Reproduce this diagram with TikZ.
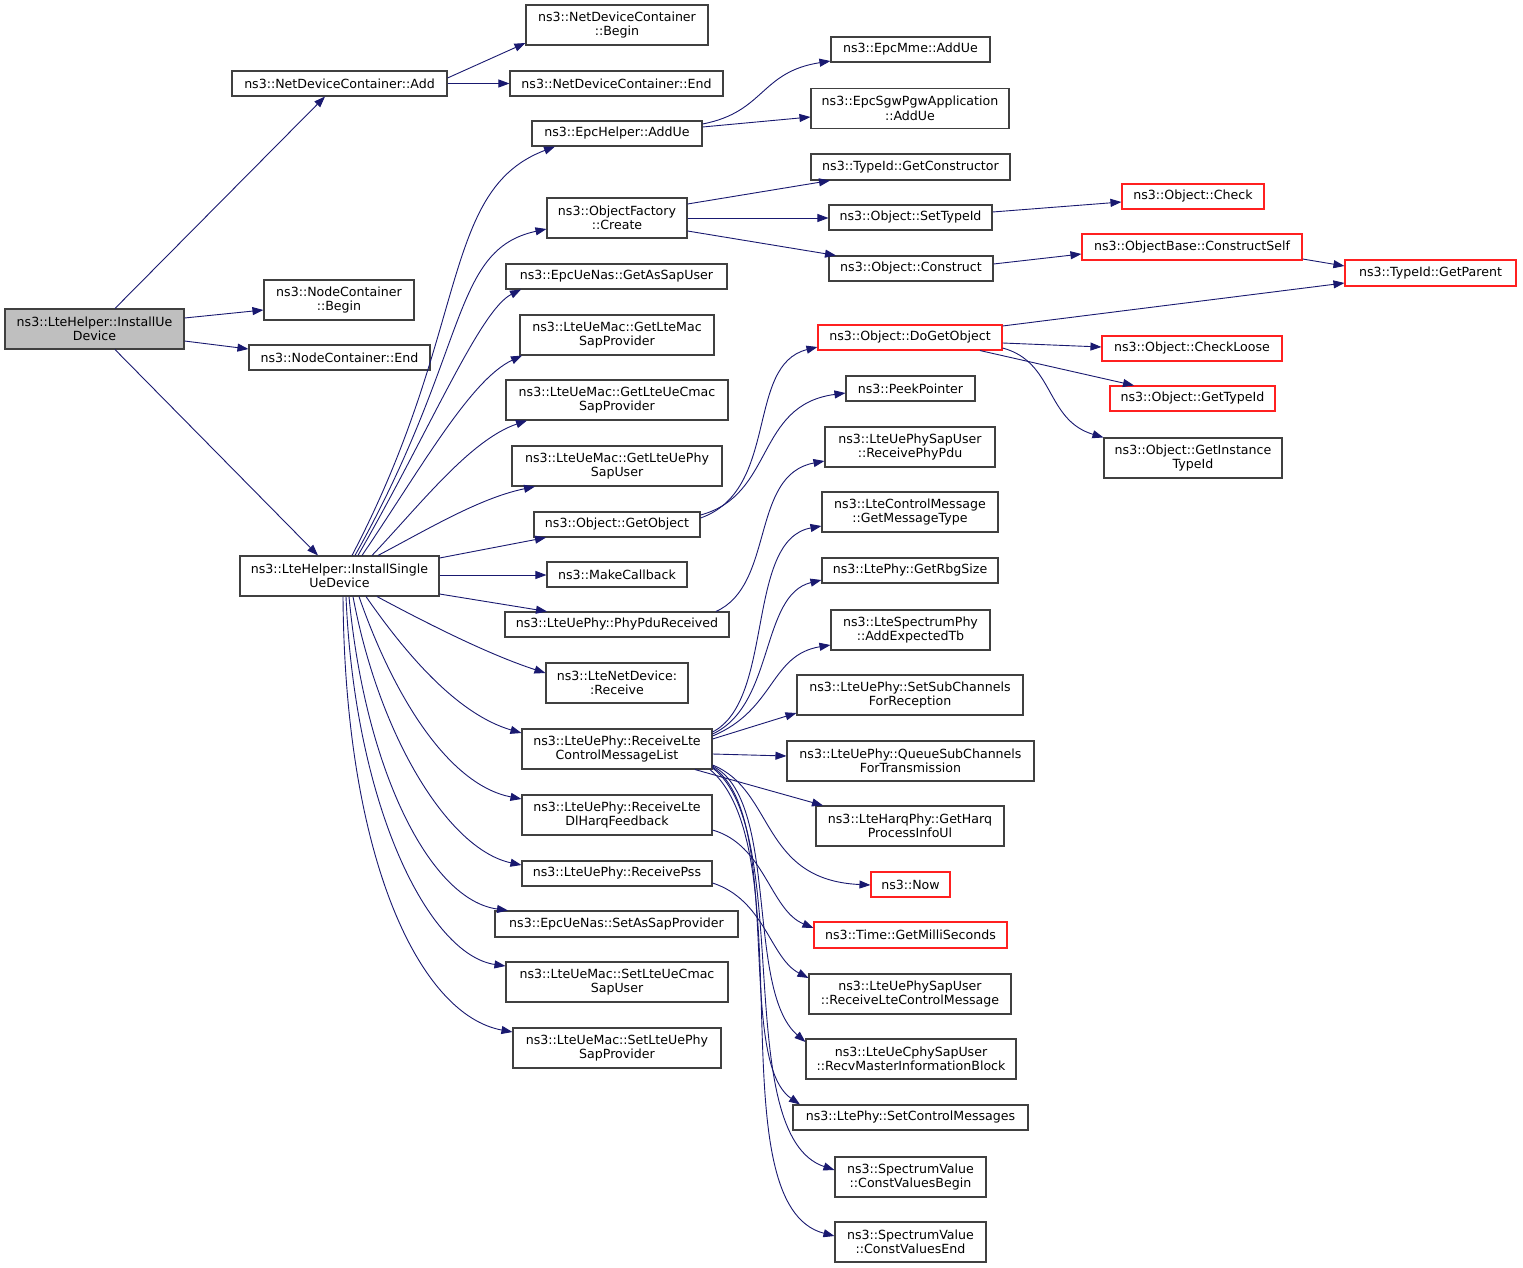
\documentclass[tikz,border=0pt]{standalone}
\usepackage{fontspec}
\setmainfont{DejaVu Sans}
\usetikzlibrary{arrows.meta}
\definecolor{edgec}{HTML}{191970}
\definecolor{boxc}{HTML}{404040}
\definecolor{rootc}{HTML}{BFBFBF}
\definecolor{redc}{HTML}{FF2020}
\begin{document}
\begin{tikzpicture}[x=1pt,y=-1pt,
 box/.style={draw=boxc, fill=white, line width=1.1pt, inner sep=0pt, align=center, font=\fontsize{12.6}{14.5}\selectfont},
 redbox/.style={box, draw=redc},
 rootbox/.style={box, fill=rootc},
 edge/.style={draw=edgec, line width=0.9pt, -{Triangle[length=11pt,width=8pt]}}]
\useasboundingbox[fill=white] (0,0) rectangle (1523,1268);
% column 1
\node[rootbox, minimum width=179, minimum height=40] (iue) at (94.5,329) {ns3::LteHelper::InstallUe\\Device};
% column 2
\node[box, minimum width=215, minimum height=25] (ndcadd) at (339.5,83.5) {ns3::NetDeviceContainer::Add};
\node[box, minimum width=150, minimum height=40] (ncbegin) at (339,300) {ns3::NodeContainer\\::Begin};
\node[box, minimum width=181, minimum height=25] (ncend) at (339.5,357.5) {ns3::NodeContainer::End};
\node[box, minimum width=199, minimum height=40] (isud) at (339.5,576) {ns3::LteHelper::InstallSingle\\UeDevice};
% column 3
\node[box, minimum width=182, minimum height=40] (ndcbegin) at (617,25) {ns3::NetDeviceContainer\\::Begin};
\node[box, minimum width=213, minimum height=25] (ndcend) at (616.5,83.5) {ns3::NetDeviceContainer::End};
\node[box, minimum width=170, minimum height=25] (epcadd) at (617,133.5) {ns3::EpcHelper::AddUe};
\node[box, minimum width=140, minimum height=40] (create) at (617,218) {ns3::ObjectFactory\\::Create};
\node[box, minimum width=221, minimum height=25] (getassap) at (616.5,276.5) {ns3::EpcUeNas::GetAsSapUser};
\node[box, minimum width=194, minimum height=40] (getmacsap) at (617,335) {ns3::LteUeMac::GetLteMac\\SapProvider};
\node[box, minimum width=222, minimum height=40] (getcmac) at (617,400) {ns3::LteUeMac::GetLteUeCmac\\SapProvider};
\node[box, minimum width=210, minimum height=40] (getphysap) at (617,466) {ns3::LteUeMac::GetLteUePhy\\SapUser};
\node[box, minimum width=166, minimum height=25] (getobj) at (617,524.5) {ns3::Object::GetObject};
\node[box, minimum width=140, minimum height=25] (makecb) at (617,574.5) {ns3::MakeCallback};
\node[box, minimum width=224, minimum height=25] (phypdu) at (617,624.5) {ns3::LteUePhy::PhyPduReceived};
\node[box, minimum width=142, minimum height=40] (netrecv) at (617,683) {ns3::LteNetDevice:\\:Receive};
\node[box, minimum width=190, minimum height=40] (rlcml) at (617,749) {ns3::LteUePhy::ReceiveLte\\ControlMessageList};
\node[box, minimum width=190, minimum height=40] (dlharq) at (617,815) {ns3::LteUePhy::ReceiveLte\\DlHarqFeedback};
\node[box, minimum width=190, minimum height=25] (pss) at (617,873.5) {ns3::LteUePhy::ReceivePss};
\node[box, minimum width=243, minimum height=26] (setas) at (616.5,924) {ns3::EpcUeNas::SetAsSapProvider};
\node[box, minimum width=222, minimum height=40] (setcmac) at (617,982) {ns3::LteUeMac::SetLteUeCmac\\SapUser};
\node[box, minimum width=208, minimum height=40] (setphy) at (617,1048) {ns3::LteUeMac::SetLteUePhy\\SapProvider};
% column 4
\node[box, minimum width=159, minimum height=25] (mme) at (910.5,49.5) {ns3::EpcMme::AddUe};
\node[box, minimum width=198, minimum height=40] (sgw) at (910,108.5) {ns3::EpcSgwPgwApplication\\::AddUe};
\node[box, minimum width=199, minimum height=26] (getctor) at (910.5,167) {ns3::TypeId::GetConstructor};
\node[box, minimum width=163, minimum height=25] (settid) at (910.5,217.5) {ns3::Object::SetTypeId};
\node[box, minimum width=164, minimum height=25] (construct) at (911,268.5) {ns3::Object::Construct};
\node[redbox, minimum width=184, minimum height=25] (dogetobj) at (910,337.5) {ns3::Object::DoGetObject};
\node[box, minimum width=129, minimum height=25] (peek) at (910.5,388.5) {ns3::PeekPointer};
\node[box, minimum width=170, minimum height=40] (rxphypdu) at (910,447) {ns3::LteUePhySapUser\\::ReceivePhyPdu};
\node[box, minimum width=176, minimum height=40] (msgtype) at (910,512) {ns3::LteControlMessage\\::GetMessageType};
\node[box, minimum width=176, minimum height=25] (rbg) at (910,570.5) {ns3::LtePhy::GetRbgSize};
\node[box, minimum width=159, minimum height=40] (addtb) at (910.5,630) {ns3::LteSpectrumPhy\\::AddExpectedTb};
\node[box, minimum width=226, minimum height=40] (subrx) at (910,695) {ns3::LteUePhy::SetSubChannels\\ForReception};
\node[box, minimum width=247, minimum height=40] (subtx) at (910.5,761) {ns3::LteUePhy::QueueSubChannels\\ForTransmission};
\node[box, minimum width=188, minimum height=40] (harq) at (910,826) {ns3::LteHarqPhy::GetHarq\\ProcessInfoUl};
\node[redbox, minimum width=79, minimum height=25] (now) at (910.5,884.5) {ns3::Now};
\node[redbox, minimum width=193, minimum height=26] (ms) at (910.5,935) {ns3::Time::GetMilliSeconds};
\node[box, minimum width=202, minimum height=40] (rxctrl) at (910,994) {ns3::LteUePhySapUser\\::ReceiveLteControlMessage};
\node[box, minimum width=210, minimum height=40] (mib) at (911,1059) {ns3::LteUeCphySapUser\\::RecvMasterInformationBlock};
\node[box, minimum width=235, minimum height=25] (setctrl) at (910.5,1117.5) {ns3::LtePhy::SetControlMessages};
\node[box, minimum width=151, minimum height=40] (cvb) at (910.5,1177) {ns3::SpectrumValue\\::ConstValuesBegin};
\node[box, minimum width=151, minimum height=40] (cve) at (910.5,1242) {ns3::SpectrumValue\\::ConstValuesEnd};
% column 5
\node[redbox, minimum width=142, minimum height=25] (check) at (1193,196.5) {ns3::Object::Check};
\node[redbox, minimum width=220, minimum height=26] (cself) at (1192,247) {ns3::ObjectBase::ConstructSelf};
\node[redbox, minimum width=180, minimum height=25] (checkloose) at (1192,348.5) {ns3::Object::CheckLoose};
\node[redbox, minimum width=165, minimum height=25] (gettid) at (1192.5,398.5) {ns3::Object::GetTypeId};
\node[box, minimum width=178, minimum height=40] (getinst) at (1193,458) {ns3::Object::GetInstance\\TypeId};
% column 6
\node[redbox, minimum width=171, minimum height=26] (getparent) at (1430.5,273) {ns3::TypeId::GetParent};
% edges from root
\draw[edge] (iue.north -| 115,0) -- (ndcadd.south -| 325,0);
\draw[edge] (iue.east |- 0,318) -- (ncbegin.west |- 0,310);
\draw[edge] (iue.east |- 0,341) -- (ncend.west |- 0,349);
\draw[edge] (iue.south -| 115,0) -- (isud.north -| 318,0);
\draw[edge] (ndcadd.east |- 0,78) -- (ndcbegin.west |- 0,43);
\draw[edge] (ndcadd.east) -- (ndcend.west);
% edges from InstallSingleUeDevice
\draw[edge] (isud.north -| 352,0) .. controls (470,330) and (440,190) .. (epcadd.south -| 555,0);
\draw[edge] (isud.north -| 355,0) .. controls (470,350) and (450,250) .. (create.west |- 0,229);
\draw[edge] (isud.north -| 358,0) .. controls (430,430) and (480,310) .. (getassap.south -| 521,0);
\draw[edge] (isud.north -| 362,0) .. controls (420,470) and (470,380) .. (getmacsap.south -| 522,0);
\draw[edge] (isud.north -| 372,0) .. controls (420,505) and (470,440) .. (getcmac.south -| 527,0);
\draw[edge] (isud.north -| 378,0) .. controls (430,528) and (480,498) .. (getphysap.south -| 535,0);
\draw[edge] (isud.east |- 0,558) -- (getobj.south -| 546,0);
\draw[edge] (isud.east |- 0,575) -- (makecb.west |- 0,575);
\draw[edge] (isud.east |- 0,594) -- (phypdu.north -| 547,0);
\draw[edge] (isud.south -| 377,0) .. controls (430,625) and (490,655) .. (netrecv.west |- 0,673);
\draw[edge] (isud.south -| 366,0) .. controls (410,660) and (460,715) .. (rlcml.west |- 0,733);
\draw[edge] (isud.south -| 359,0) .. controls (395,700) and (450,785) .. (dlharq.west |- 0,799);
\draw[edge] (isud.south -| 353,0) .. controls (380,740) and (450,850) .. (pss.west |- 0,865);
\draw[edge] (isud.south -| 349,0) .. controls (365,770) and (430,900) .. (setas.north -| 508,0);
\draw[edge] (isud.south -| 346,0) .. controls (355,810) and (430,955) .. (setcmac.west |- 0,966);
\draw[edge] (isud.south -| 343,0) .. controls (345,860) and (420,1015) .. (setphy.west |- 0,1032);
% column 3 -> 4
\draw[edge] (epcadd.east |- 0,124) .. controls (765,112) and (760,72) .. (mme.west |- 0,61);
\draw[edge] (epcadd.east |- 0,127) -- (sgw.west |- 0,117);
\draw[edge] (create.east |- 0,204) -- (getctor.south -| 830,0);
\draw[edge] (create.east |- 0,218) -- (settid.west |- 0,218);
\draw[edge] (create.east |- 0,231) -- (construct.north -| 836,0);
\draw[edge] (getobj.east |- 0,518) .. controls (780,490) and (745,365) .. (dogetobj.west |- 0,347);
\draw[edge] (getobj.east |- 0,515) .. controls (775,495) and (755,405) .. (peek.west |- 0,393);
\draw[edge] (phypdu.north -| 716,0) .. controls (775,585) and (750,475) .. (rxphypdu.west |- 0,461);
\draw[edge] (rlcml.east |- 0,732) .. controls (775,700) and (745,540) .. (msgtype.west |- 0,526);
\draw[edge] (rlcml.east |- 0,734) .. controls (775,705) and (760,595) .. (rbg.west |- 0,580);
\draw[edge] (rlcml.east |- 0,736) .. controls (775,710) and (770,655) .. (addtb.west |- 0,645);
\draw[edge] (rlcml.east |- 0,739) -- (subrx.west |- 0,713);
\draw[edge] (rlcml.east |- 0,754) -- (subtx.west |- 0,756);
\draw[edge] (rlcml.south -| 695,0) -- (harq.north -| 823,0);
\draw[edge] (rlcml.east |- 0,765) .. controls (775,790) and (760,880) .. (now.west |- 0,885);
\draw[edge] (rlcml.east |- 0,766) .. controls (780,800) and (745,990) .. (mib.west |- 0,1042);
\draw[edge] (rlcml.east |- 0,767) .. controls (785,815) and (735,1060) .. (setctrl.north -| 800,0);
\draw[edge] (rlcml.east |- 0,768) .. controls (795,830) and (730,1135) .. (cvb.west |- 0,1170);
\draw[edge] (rlcml.south -| 710,0) .. controls (805,850) and (715,1205) .. (cve.west |- 0,1236);
\draw[edge] (dlharq.east |- 0,830) .. controls (765,845) and (770,910) .. (ms.west |- 0,928);
\draw[edge] (pss.east |- 0,883) .. controls (765,900) and (770,958) .. (rxctrl.west |- 0,978);
% column 4 -> 5
\draw[edge] (settid.east |- 0,212) -- (check.west |- 0,202);
\draw[edge] (construct.east |- 0,264) -- (cself.west |- 0,254);
\draw[edge] (dogetobj.east |- 0,343) -- (checkloose.west |- 0,347);
\draw[edge] (dogetobj.south -| 980,0) -- (gettid.north -| 1134,0);
\draw[edge] (dogetobj.east |- 0,348) .. controls (1055,362) and (1045,420) .. (getinst.north west);
% to GetParent
\draw[edge] (cself.east |- 0,259) -- (getparent.west |- 0,266);
\draw[edge] (dogetobj.east |- 0,326) -- (getparent.west |- 0,283);
\end{tikzpicture}
\end{document}
